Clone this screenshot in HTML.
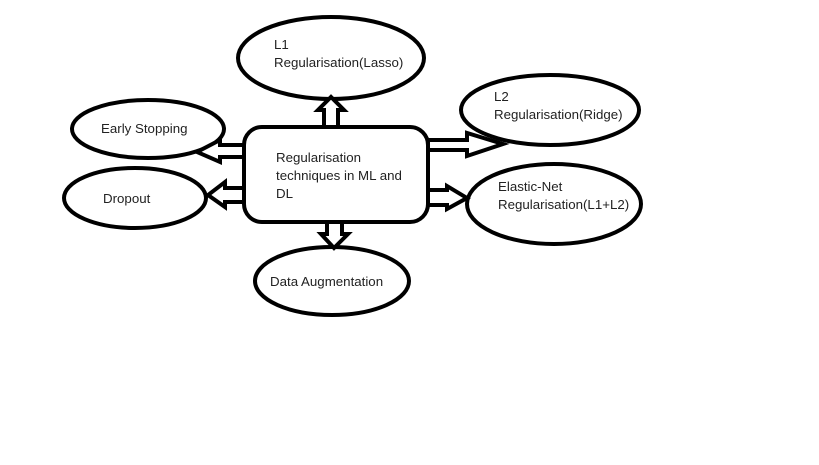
<!DOCTYPE html>
<html><head><meta charset="utf-8"><style>
body{margin:0;background:#fff;width:819px;height:460px;overflow:hidden}
text{font-family:"Liberation Sans",sans-serif;font-size:13.3px;fill:#222}
</style></head><body>
<svg width="819" height="460" viewBox="0 0 819 460" xmlns="http://www.w3.org/2000/svg">
<g fill="#fff" stroke="#000" stroke-width="4" stroke-linejoin="miter">
<ellipse cx="331" cy="58" rx="93" ry="41"/>
<ellipse cx="550" cy="110" rx="89" ry="35"/>
<ellipse cx="148" cy="129" rx="76" ry="29"/>
<ellipse cx="135" cy="198" rx="71" ry="30"/>
<ellipse cx="554" cy="204" rx="87" ry="40"/>
<ellipse cx="332" cy="281" rx="77" ry="34"/>
<rect x="244" y="127" width="184" height="95" rx="18" ry="18"/>
<polygon points="324,127 324,110 318,110 331,97 344,110 338,110 338,127"/>
<polygon points="327,222 327,234 321,234 334,248 348,234 342,234 342,222"/>
<polygon points="244,145 220,145 220,140 197,152 220,162 220,157 244,157"/>
<polygon points="244,188 225,188 225,182 208,195 225,207 225,202 244,202"/>
<polygon points="428,140 467,140 467,133 503,144 467,156 467,150 428,150"/>
<polygon points="428,190 447,190 447,186 467,198 447,209 447,205 428,205"/>
</g>
<text x="274" y="49">L1</text>
<text x="274" y="67">Regularisation(Lasso)</text>
<text x="494" y="101">L2</text>
<text x="494" y="119">Regularisation(Ridge)</text>
<text x="101" y="133">Early Stopping</text>
<text x="103" y="203">Dropout</text>
<text x="498" y="191">Elastic-Net</text>
<text x="498" y="209">Regularisation(L1+L2)</text>
<text x="270" y="286">Data Augmentation</text>
<text x="276" y="162">Regularisation</text>
<text x="276" y="180">techniques in ML and</text>
<text x="276" y="198">DL</text>
</svg>
</body></html>
